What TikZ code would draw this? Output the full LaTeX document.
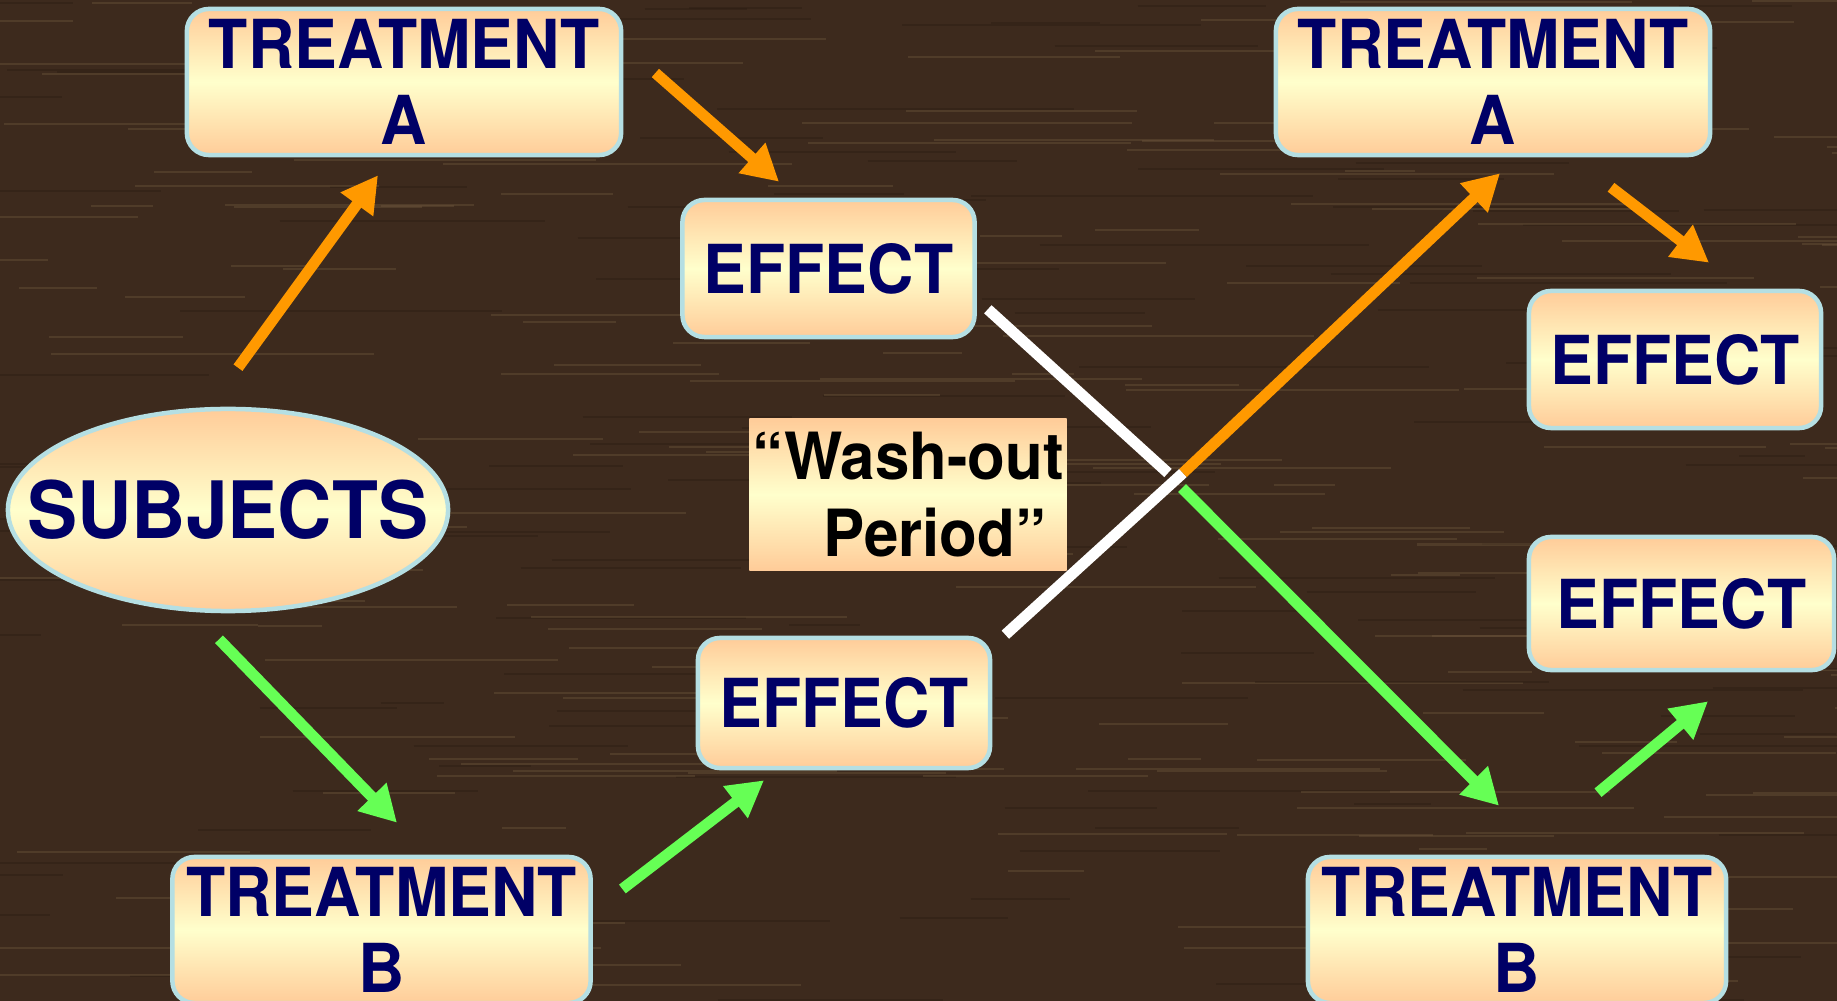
\documentclass[tikz,border=0pt]{standalone}
\usepackage{fontspec}
\setmainfont{TeX Gyre Heros}[FakeStretch=0.95]
\usetikzlibrary{arrows.meta,shapes.geometric}

\definecolor{woodbg}{HTML}{3D2A1D}
\definecolor{woodlight}{HTML}{6E573D}
\definecolor{wooddark}{HTML}{2A1B11}
\definecolor{peach}{HTML}{FFCC99}
\definecolor{cream}{HTML}{FFFFCC}
\definecolor{rimblue}{HTML}{B5DFE3}
\definecolor{navytext}{HTML}{000066}
\definecolor{armorange}{HTML}{FF9900}
\definecolor{armgreen}{HTML}{66FF55}

\tikzset{
  box/.style={rounded corners=0.22cm, draw=rimblue, line width=0.045cm,
    top color=peach, bottom color=peach, middle color=cream,
    text=navytext, font=\bfseries\fontsize{19.2}{21.6}\selectfont,
    align=center, inner sep=0pt},
  treatbox/.style={box, minimum width=4.34cm, minimum height=1.46cm},
  effbox/.style={box, minimum width=2.92cm, minimum height=1.35cm},
  subjoval/.style={ellipse, draw=rimblue, line width=0.045cm,
    top color=peach, bottom color=peach, middle color=cream,
    text=navytext, font=\bfseries\fontsize{22.5}{26}\selectfont,
    minimum width=4.32cm, minimum height=2.02cm, inner xsep=-0.45cm, inner ysep=0pt},
  washbox/.style={top color=peach, bottom color=peach, middle color=cream,
    text=black, font=\bfseries\fontsize{18.5}{21.8}\selectfont,
    align=center, inner sep=0pt, minimum width=3.17cm, minimum height=1.51cm},
  oarrow/.style={draw=armorange, line width=0.11cm, -{Triangle[length=0.36cm,width=0.38cm]}},
  garrow/.style={draw=armgreen, line width=0.11cm, -{Triangle[length=0.36cm,width=0.38cm]}},
  wline/.style={draw=white, line width=0.11cm},
  grain/.style={line width=0.02cm, opacity=0.4}
}

\begin{document}
\begin{tikzpicture}[x=0.01cm, y=-0.01cm]
    \useasboundingbox (0,0) rectangle (1837,1001);
    \clip (0,0) rectangle (1837,1001);
    \fill[woodbg] (0,0) rectangle (1837,1001);
    % wood grain
    \pgfmathsetseed{11}
    \foreach \i in {1,...,320} {
        \pgfmathsetmacro\gx{rnd*1950-100}
        \pgfmathsetmacro\gy{rnd*1001}
        \pgfmathsetmacro\gl{60+rnd*300}
        \pgfmathsetmacro\gc{rnd>0.4 ? "woodlight" : "wooddark"}
        \draw[grain, \gc] (\gx,\gy) -- ++(\gl,0);
    }

    % first period
    \node[treatbox] (treatA) at (404,82) {TREATMENT\\A};
    \node[effbox, minimum height=1.37cm] (effA) at (828.5,268.5) {EFFECT};
    \node[subjoval] (subj) at (228,510) {SUBJECTS};
    \node[treatbox, minimum width=4.18cm] (treatB) at (381.5,930) {TREATMENT\\B};
    \node[effbox, minimum height=1.30cm] (effB) at (844,703) {EFFECT};
    \node[washbox] (wash) at (908,494.5) {“Wash-out\\\hspace*{0.54cm}Period”};

    % second period
    \node[treatbox] (treatA2) at (1493,82) {TREATMENT\\A};
    \node[effbox, minimum height=1.37cm] (effA2) at (1675,359.5) {EFFECT};
    \node[effbox, minimum width=3.05cm, minimum height=1.33cm] (effB2) at (1681.5,603.5) {EFFECT};
    \node[treatbox, minimum width=4.18cm] (treatB2) at (1517,930) {TREATMENT\\B};
    \coordinate (cross) at (1183,473);

    \draw[oarrow] ([shift={(10,-39)}]subj.north) -- ([shift={(-26,18)}]treatA.south);
    \draw[oarrow] ([shift={(32,-9)}]treatA.east) -- ([shift={(-49.5,-16)}]effA.north);
    \draw[garrow] ([shift={(-9,26)}]subj.south) -- ([shift={(15.5,-32)}]treatB.north);
    \draw[garrow] ([shift={(29.5,-41)}]treatB.east) -- ([shift={(-80,10)}]effB.south);

    % crossing over
    \draw[wline] ([shift={(11,-30)}]effA.south east) -- ([shift={(-15,0)}]cross);
    \draw[wline] ([shift={(13,-1)}]effB.north east) -- (cross);
    \draw[oarrow] (cross) -- ([shift={(7,16)}]treatA2.south);
    \draw[garrow] ([shift={(-1,15)}]cross) -- ([shift={(-18,-49)}]treatB2.north);

    \draw[oarrow] ([shift={(118,30)}]treatA2.south) -- ([shift={(34,-26)}]effA2.north);
    \draw[garrow] ([shift={(81,-62)}]treatB2.north) -- ([shift={(26.5,29)}]effB2.south);
\end{tikzpicture}
\end{document}
